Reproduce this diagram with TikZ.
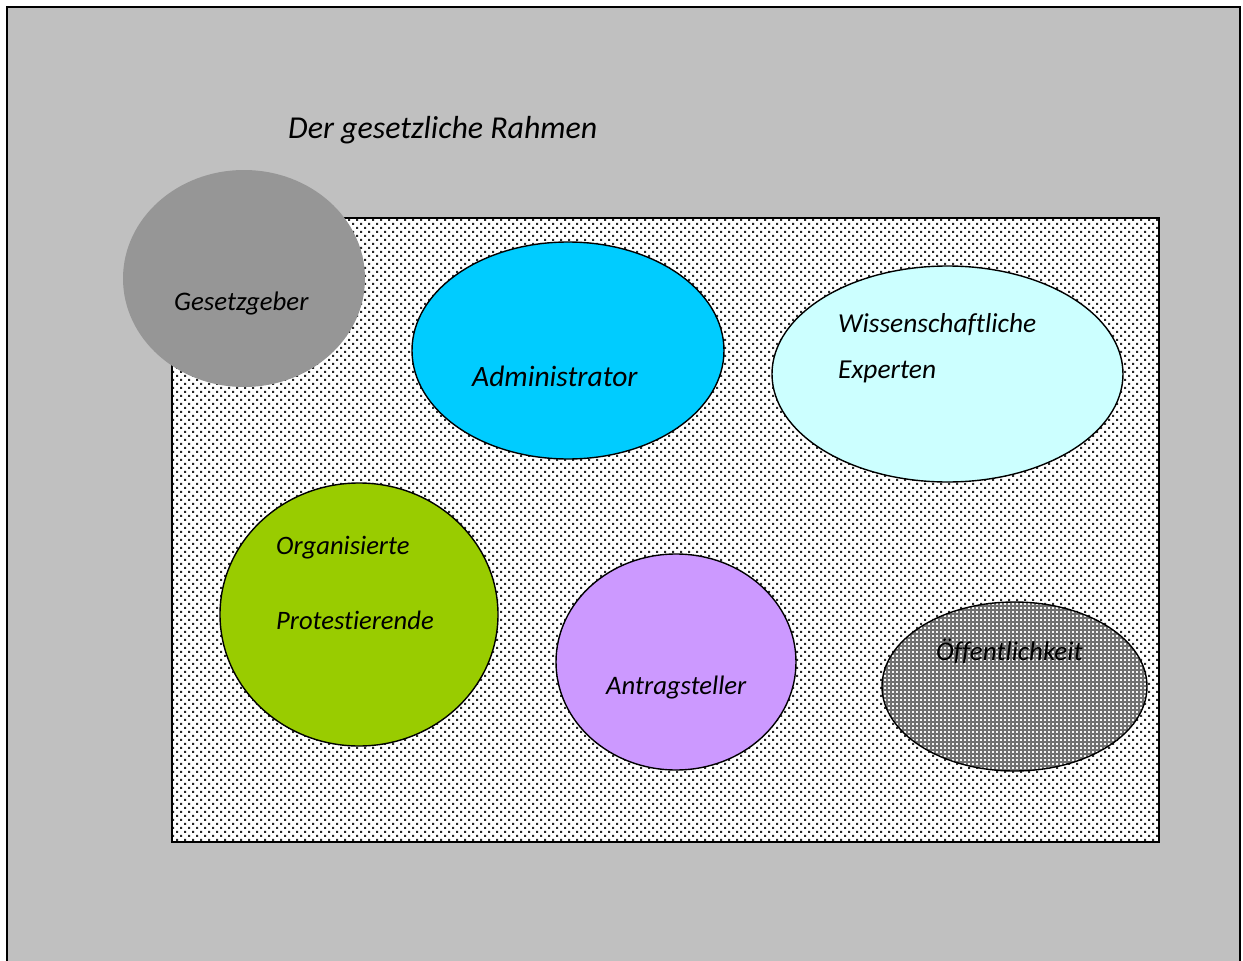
\documentclass[tikz,border=0pt]{standalone}
\usepackage{fontspec}
\setmainfont[Ligatures=NoCommon]{Carlito}
\usetikzlibrary{shapes.geometric,patterns}
\pgfdeclarepatternformonly{wdots}{\pgfqpoint{-1pt}{-1pt}}{\pgfqpoint{9pt}{9pt}}{\pgfqpoint{8pt}{8pt}}{%
  \pgfpathrectangle{\pgfqpoint{0pt}{0pt}}{\pgfqpoint{2pt}{2pt}}%
  \pgfpathrectangle{\pgfqpoint{4pt}{4pt}}{\pgfqpoint{2pt}{2pt}}%
  \pgfusepath{fill}}
\pgfdeclarepatternformonly{wgrid}{\pgfqpoint{-1pt}{-1pt}}{\pgfqpoint{5pt}{5pt}}{\pgfqpoint{4pt}{4pt}}{%
  \pgfpathrectangle{\pgfqpoint{0pt}{0pt}}{\pgfqpoint{1.8pt}{1.8pt}}%
  \pgfusepath{fill}}
\definecolor{outergray}{HTML}{C0C0C0}
\definecolor{gesgray}{HTML}{969696}
\definecolor{admblue}{HTML}{00CCFF}
\definecolor{expcyan}{HTML}{CCFFFF}
\definecolor{orggreen}{HTML}{99CC00}
\definecolor{antpurple}{HTML}{CC99FF}
\definecolor{oefgray}{HTML}{707070}
\begin{document}
\begin{tikzpicture}[x=1pt,y=-1pt,
  blob/.style={ellipse,draw=black,line width=1.4pt,inner sep=0pt},
  lbl/.style={anchor=base west,inner sep=0pt,font=\itshape\fontsize{27}{31}\selectfont}]
\useasboundingbox (0,0) rectangle (1243,961);
\path[fill=white] (0,0) rectangle (1243,961);
% outer frame
\draw[fill=outergray,line width=2.6pt] (7,7) rectangle (1240,985);
% inner dotted field
\path[fill=white] (172,218) rectangle (1159,842);
\path[pattern=wdots,pattern color=black!85] (172,218) rectangle (1159,842);
\draw[line width=1.2pt] (172,218) rectangle (1159,842);
% title
\node[lbl,font=\itshape\fontsize{31.9}{36}\selectfont] (title) at (288,138) {Der gesetzliche Rahmen};
% ellipses
\node[ellipse,fill=gesgray,inner sep=0pt,minimum width=242pt,minimum height=217pt] (ges) at (244,278.5) {};
\node[blob,fill=admblue,minimum width=312pt,minimum height=217pt] (adm) at (568,350.5) {};
\node[blob,fill=expcyan,minimum width=351pt,minimum height=216pt] (exp) at (947.5,374) {};
\node[blob,fill=orggreen,minimum width=278pt,minimum height=263pt] (org) at (359,614.5) {};
\node[blob,fill=antpurple,minimum width=240pt,minimum height=216pt] (ant) at (676,662) {};
\node[ellipse,fill=oefgray,inner sep=0pt,minimum width=265pt,minimum height=169pt] (oefbg) at (1014.5,686.5) {};
\node[ellipse,pattern=wgrid,pattern color=white!92!gray,inner sep=0pt,minimum width=265pt,minimum height=169pt] (oefpat) at (1014.5,686.5) {};
\node[blob,minimum width=265pt,minimum height=169pt] (oef) at (1014.5,686.5) {};
% labels
\node[lbl,font=\itshape\fontsize{26.8}{31}\selectfont] (tges) at (174,310) {Gesetzgeber};
\node[lbl,font=\itshape\fontsize{29.5}{34}\selectfont] (tadm) at (472,386) {Administrator};
\node[lbl,font=\itshape\fontsize{27.4}{31}\selectfont] (texp1) at (838,332) {Wissenschaftliche};
\node[lbl,font=\itshape\fontsize{27.4}{31}\selectfont] (texp2) at (838,378) {Experten};
\node[lbl,font=\itshape\fontsize{26.6}{31}\selectfont] (torg1) at (276,554) {Organisierte};
\node[lbl,font=\itshape\fontsize{26.6}{31}\selectfont] (torg2) at (276,629) {Protestierende};
\node[lbl,font=\itshape\fontsize{26.7}{31}\selectfont] (tant) at (606,694) {Antragsteller};
\node[lbl,font=\itshape\fontsize{27}{31}\selectfont] (toef) at (936,660) {Öffentlichkeit};
\end{tikzpicture}
\end{document}
